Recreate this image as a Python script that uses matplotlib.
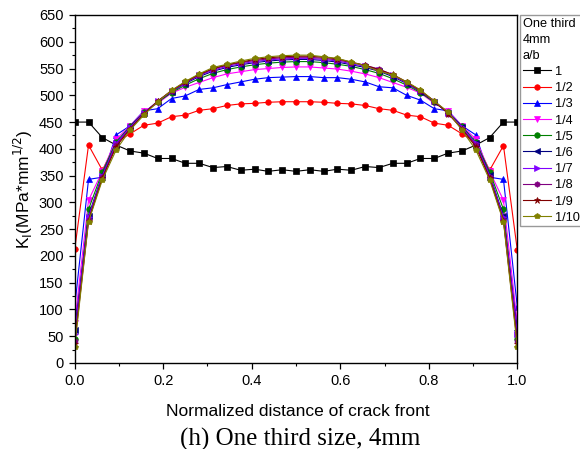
import numpy as np
import matplotlib
matplotlib.use('Agg')
import matplotlib.pyplot as plt
from matplotlib.ticker import MultipleLocator, FormatStrFormatter

plt.rcParams['font.family'] = ['Liberation Sans', 'DejaVu Sans']

# normalized position along the crack front (33 nodes)
x = np.linspace(0, 1, 33)

ratio_labels = ['1', '1/2', '1/3', '1/4', '1/5', '1/6', '1/7', '1/8', '1/9', '1/10']

k_1 = [450, 450, 421, 407, 396, 392, 382, 382, 373, 373, 365, 367, 360, 362, 358, 361, 358,
       361, 358, 362, 360, 367, 365, 373, 373, 382, 382, 392, 396, 407, 421, 450, 450]
k_1_2 = [212, 407, 360, 412, 428, 444, 448, 460, 463, 472, 475, 481, 484, 485, 487, 488, 488,
         488, 487, 485, 484, 481, 475, 472, 463, 460, 448, 444, 428, 412, 360, 406, 211]
k_1_3 = [105, 343, 347, 426, 443, 471, 475, 494, 499, 511, 514, 520, 525, 530, 533, 534, 535,
         535, 533, 533, 530, 525, 516, 514, 500, 491, 475, 471, 443, 426, 347, 343, 105]
k_1_4 = [75, 304, 358, 418, 443, 470, 485, 504, 515, 524, 533, 540, 544, 548, 550, 552, 553,
         553, 551, 549, 545, 540, 533, 524, 515, 504, 485, 470, 443, 418, 358, 304, 75]
k_1_5 = [45, 287, 357, 413, 442, 468, 487, 505, 519, 531, 541, 548, 553, 557, 560, 562, 563,
         563, 561, 558, 554, 548, 541, 531, 519, 505, 487, 468, 442, 413, 357, 287, 45]
k_1_6 = [62, 275, 352, 410, 441, 467, 488, 507, 522, 535, 545, 552, 557, 561, 564, 566, 567,
         567, 565, 562, 557, 552, 545, 535, 522, 507, 488, 467, 441, 410, 352, 275, 62]
k_1_7 = [55, 272, 350, 410, 440, 467, 489, 508, 523, 537, 547, 554, 559, 563, 566, 568, 569,
         569, 567, 564, 559, 554, 547, 537, 523, 508, 489, 467, 440, 410, 350, 272, 55]
k_1_8 = [42, 268, 347, 407, 438, 466, 489, 508, 524, 538, 549, 556, 561, 565, 568, 570, 571,
         571, 569, 566, 561, 556, 549, 538, 524, 508, 489, 466, 438, 407, 347, 268, 42]
k_1_9 = [36, 266, 345, 404, 437, 465, 489, 509, 525, 539, 550, 557, 562, 567, 570, 572, 573,
         573, 571, 568, 562, 556, 548, 539, 525, 509, 489, 466, 437, 404, 345, 266, 36]
k_1_10 = [30, 264, 342, 398, 435, 463, 488, 509, 526, 540, 552, 558, 564, 569, 572, 574, 575,
          575, 572, 569, 562, 555, 545, 538, 525, 510, 489, 469, 435, 398, 342, 264, 30]

series = [k_1, k_1_2, k_1_3, k_1_4, k_1_5, k_1_6, k_1_7, k_1_8, k_1_9, k_1_10]
colors = ['#000000', '#FF0000', '#0000FF', '#FF00FF', '#008000',
          '#000080', '#8000FF', '#800080', '#800000', '#808000']
markers = ['s', 'o', '^', 'v', 'o', '<', '>', 'h', '*', 'p']

fig = plt.figure(figsize=(5.8, 4.49), dpi=100)
ax = fig.add_axes([74.7 / 580, 1 - 363 / 449, 442.6 / 580, 348 / 449])

for vals, c, m, lab in zip(series, colors, markers, ratio_labels):
    ms = 5 if m == '*' else 4
    ax.plot(x, vals, color=c, marker=m, markersize=ms, linewidth=0.8,
            markeredgewidth=0.5, label=lab)

ax.set_xlim(0, 1)
ax.set_ylim(0, 650)
ax.xaxis.set_major_locator(MultipleLocator(0.2))
ax.xaxis.set_minor_locator(MultipleLocator(0.1))
ax.xaxis.set_major_formatter(FormatStrFormatter('%.1f'))
ax.yaxis.set_major_locator(MultipleLocator(50))
ax.yaxis.set_minor_locator(MultipleLocator(25))
ax.tick_params(which='major', direction='out', length=4.5, width=0.9, labelsize=10.5)
ax.tick_params(which='minor', direction='out', length=2.5, width=0.8)
for s in ax.spines.values():
    s.set_linewidth(1.0)

ax.set_ylabel(r'K$_\mathrm{I}$(MPa*mm$^{1/2}$)', fontsize=12.5)
ax.yaxis.set_label_coords(-0.09, 0.5)

fig.text(298 / 580, 1 - 411 / 449, 'Normalized distance of crack front',
         ha='center', va='center', fontsize=12.5)
fig.text(300 / 580, 1 - 439 / 449, '(h) One third size, 4mm',
         ha='center', va='center', fontsize=18, family='Liberation Serif')

leg = fig.legend(loc='upper left', bbox_to_anchor=(520 / 580, 1 - 15 / 449),
                 title='One third\n4mm\na/b', fontsize=9.2, title_fontsize=9.2,
                 frameon=True, fancybox=False, edgecolor='#808080',
                 handlelength=2.2, handletextpad=0.35, labelspacing=0.33,
                 borderpad=0.2, borderaxespad=0)
leg._legend_box.align = 'left'
leg.get_title().set_linespacing(1.45)
leg.get_frame().set_linewidth(1.0)

fig.savefig('out.png', dpi=100)
